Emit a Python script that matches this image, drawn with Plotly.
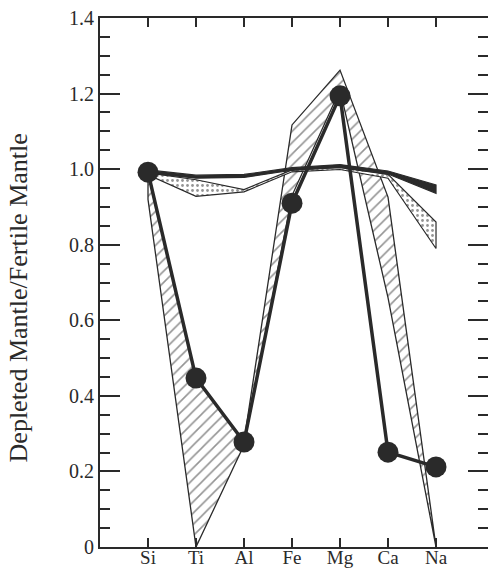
import plotly.graph_objects as go

elements = ["Si", "Ti", "Al", "Fe", "Mg", "Ca", "Na"]

# sample with large filled markers
marker_vals = [0.992, 0.447, 0.278, 0.91, 1.194, 0.251, 0.212]

# hatched envelope (upper / lower bounds)
hatch_upper = [0.99, 0.445, 0.28, 1.117, 1.262, 0.926, 0.0]
hatch_lower = [0.92, 0.0, 0.27, 0.93, 1.21, 0.66, 0.0]

# dotted envelope
dot_upper = [0.99, 0.972, 0.946, 0.998, 1.004, 0.986, 0.86]
dot_lower = [0.985, 0.928, 0.940, 0.993, 0.999, 0.976, 0.79]

# solid black band
black_upper = [0.998, 0.984, 0.986, 1.004, 1.012, 0.995, 0.958]
black_lower = [0.990, 0.976, 0.978, 0.997, 1.005, 0.987, 0.936]

y_ticks = [0, 0.2, 0.4, 0.6, 0.8, 1.0, 1.2, 1.4]
y_ticktext = ["0", "0.2", "0.4", "0.6", "0.8", "1.0", "1.2", "1.4"]

INK = "#2a2a2a"
FONT = "Liberation Serif"


def band(upper, lower):
    xs = elements + elements[::-1] + [elements[0]]
    ys = upper + lower[::-1] + [upper[0]]
    return xs, ys


fig = go.Figure()

hx, hy = band(hatch_upper, hatch_lower)
fig.add_trace(go.Scatter(
    x=hx, y=hy, mode="lines", fill="toself",
    fillcolor="rgba(0,0,0,0)",
    fillpattern=dict(shape="/", size=8, solidity=0.2, fgcolor=INK, bgcolor="white"),
    line=dict(color=INK, width=1.3), showlegend=False, hoverinfo="skip"))

dx, dy = band(dot_upper, dot_lower)
fig.add_trace(go.Scatter(
    x=dx, y=dy, mode="lines", fill="toself",
    fillcolor="rgba(0,0,0,0)",
    fillpattern=dict(shape=".", size=5, solidity=0.25, fgcolor=INK, bgcolor="white"),
    line=dict(color=INK, width=1.2), showlegend=False, hoverinfo="skip"))

bx, by = band(black_upper, black_lower)
fig.add_trace(go.Scatter(
    x=bx, y=by, mode="lines", fill="toself", fillcolor=INK,
    line=dict(color=INK, width=1.2), showlegend=False, hoverinfo="skip"))

fig.add_trace(go.Scatter(
    x=elements, y=marker_vals, mode="lines+markers",
    line=dict(color=INK, width=3.5),
    marker=dict(size=21, color=INK),
    showlegend=False, hoverinfo="skip"))

fig.add_annotation(
    text="Depleted Mantle/Fertile Mantle", textangle=-90,
    xref="paper", yref="paper", x=-0.209, y=0.4716,
    xanchor="center", yanchor="middle", showarrow=False,
    font=dict(family=FONT, size=26, color=INK))

fig.update_xaxes(
    type="category", categoryorder="array", categoryarray=elements,
    range=[-1, 7.083], showgrid=False, zeroline=False, automargin=False,
    showline=True, linewidth=2, linecolor=INK, mirror="allticks",
    ticks="inside", ticklen=9, tickwidth=2, tickcolor=INK,
    ticklabelstandoff=-8,
    tickfont=dict(family=FONT, size=19, color=INK))

fig.update_yaxes(
    range=[0, 1.4], showgrid=False, zeroline=False, automargin=False,
    showline=True, linewidth=2, linecolor=INK, mirror="allticks",
    tickmode="array", tickvals=y_ticks, ticktext=y_ticktext,
    ticks="inside", ticklen=20, tickwidth=2, tickcolor=INK,
    minor=dict(dtick=0.05, ticks="inside", ticklen=10, tickwidth=2, tickcolor=INK, showgrid=False),
    tickfont=dict(family=FONT, size=20, color=INK))

fig.update_layout(
    width=488, height=569,
    margin=dict(l=100, r=0, t=18, b=22),
    plot_bgcolor="white", paper_bgcolor="white",
    showlegend=False)

# remove the default page margin so the figure sits at the window's corner
fig.write_html(
    "out.html",
    config={"displayModeBar": False},
    post_script="document.body.style.margin='0';document.body.style.overflow='hidden';")
